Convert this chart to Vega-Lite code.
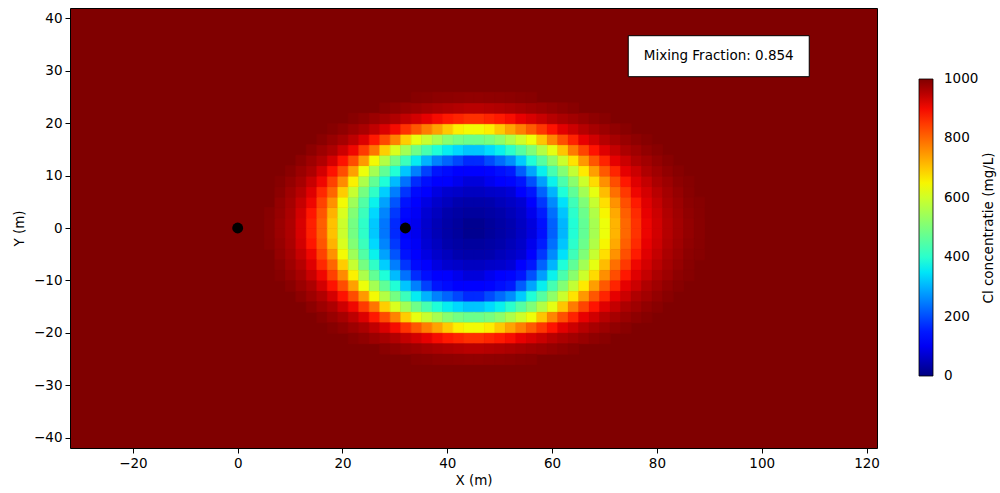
{
"$schema":"https://vega.github.io/schema/vega-lite/v6.json",
"width":807,"height":440,
"autosize":{"type":"none"},
"padding":{"left":70,"top":8,"right":123,"bottom":45},
"background":"white",
"config":{
"font":"DejaVu Sans",
"view":{"fill":"#800000","stroke":"#000000","strokeWidth":1},
"axis":{"labelFont":"DejaVu Sans","titleFont":"DejaVu Sans","labelFontSize":13.5,"titleFontSize":13.5,"labelColor":"#000","titleColor":"#000","titleFontWeight":"normal","tickColor":"#000","tickSize":5,"tickWidth":1,"domain":false,"grid":false,"labelPadding":3}
},
"datasets":{
"wells":[{"x":0,"y":0},{"x":32,"y":0}],
"note":[{"x":91.8,"y":32.8,"label":"Mixing Fraction: 0.854"}],
"field":[
{"x":5,"y":0,"c":992},{"x":7,"y":0,"c":977},{"x":9,"y":0,"c":960},{"x":11,"y":0,"c":924},{"x":13,"y":0,"c":877},{"x":15,"y":0,"c":810},{"x":17,"y":0,"c":706},{"x":19,"y":0,"c":596},{"x":21,"y":0,"c":491},{"x":23,"y":0,"c":405},{"x":25,"y":0,"c":321},{"x":27,"y":0,"c":241},{"x":29,"y":0,"c":165},{"x":31,"y":0,"c":125},{"x":33,"y":0,"c":95},{"x":35,"y":0,"c":67},{"x":37,"y":0,"c":48},{"x":39,"y":0,"c":34},{"x":41,"y":0,"c":25},{"x":43,"y":0,"c":14},{"x":45,"y":0,"c":14},{"x":47,"y":0,"c":23},{"x":49,"y":0,"c":32},{"x":51,"y":0,"c":42},{"x":53,"y":0,"c":58},{"x":55,"y":0,"c":81},{"x":57,"y":0,"c":140},{"x":59,"y":0,"c":219},{"x":61,"y":0,"c":304},{"x":63,"y":0,"c":390},{"x":65,"y":0,"c":468},{"x":67,"y":0,"c":551},{"x":69,"y":0,"c":637},{"x":71,"y":0,"c":719},{"x":73,"y":0,"c":800},{"x":75,"y":0,"c":857},{"x":77,"y":0,"c":906},{"x":79,"y":0,"c":930},{"x":81,"y":0,"c":954},{"x":83,"y":0,"c":970},{"x":85,"y":0,"c":983},{"x":87,"y":0,"c":992},
{"x":5,"y":-2,"c":992},{"x":7,"y":-2,"c":977},{"x":9,"y":-2,"c":960},{"x":11,"y":-2,"c":924},{"x":13,"y":-2,"c":877},{"x":15,"y":-2,"c":810},{"x":17,"y":-2,"c":706},{"x":19,"y":-2,"c":596},{"x":21,"y":-2,"c":491},{"x":23,"y":-2,"c":405},{"x":25,"y":-2,"c":321},{"x":27,"y":-2,"c":241},{"x":29,"y":-2,"c":165},{"x":31,"y":-2,"c":125},{"x":33,"y":-2,"c":95},{"x":35,"y":-2,"c":67},{"x":37,"y":-2,"c":48},{"x":39,"y":-2,"c":34},{"x":41,"y":-2,"c":25},{"x":43,"y":-2,"c":14},{"x":45,"y":-2,"c":14},{"x":47,"y":-2,"c":23},{"x":49,"y":-2,"c":32},{"x":51,"y":-2,"c":42},{"x":53,"y":-2,"c":58},{"x":55,"y":-2,"c":81},{"x":57,"y":-2,"c":140},{"x":59,"y":-2,"c":219},{"x":61,"y":-2,"c":304},{"x":63,"y":-2,"c":390},{"x":65,"y":-2,"c":468},{"x":67,"y":-2,"c":551},{"x":69,"y":-2,"c":637},{"x":71,"y":-2,"c":719},{"x":73,"y":-2,"c":800},{"x":75,"y":-2,"c":857},{"x":77,"y":-2,"c":906},{"x":79,"y":-2,"c":930},{"x":81,"y":-2,"c":954},{"x":83,"y":-2,"c":970},{"x":85,"y":-2,"c":983},{"x":87,"y":-2,"c":992},
{"x":5,"y":2,"c":993},{"x":7,"y":2,"c":980},{"x":9,"y":2,"c":963},{"x":11,"y":2,"c":929},{"x":13,"y":2,"c":887},{"x":15,"y":2,"c":820},{"x":17,"y":2,"c":722},{"x":19,"y":2,"c":613},{"x":21,"y":2,"c":508},{"x":23,"y":2,"c":421},{"x":25,"y":2,"c":337},{"x":27,"y":2,"c":256},{"x":29,"y":2,"c":180},{"x":31,"y":2,"c":132},{"x":33,"y":2,"c":102},{"x":35,"y":2,"c":72},{"x":37,"y":2,"c":55},{"x":39,"y":2,"c":38},{"x":41,"y":2,"c":31},{"x":43,"y":2,"c":26},{"x":45,"y":2,"c":26},{"x":47,"y":2,"c":31},{"x":49,"y":2,"c":37},{"x":51,"y":2,"c":49},{"x":53,"y":2,"c":63},{"x":55,"y":2,"c":94},{"x":57,"y":2,"c":152},{"x":59,"y":2,"c":234},{"x":61,"y":2,"c":318},{"x":63,"y":2,"c":402},{"x":65,"y":2,"c":480},{"x":67,"y":2,"c":564},{"x":69,"y":2,"c":650},{"x":71,"y":2,"c":731},{"x":73,"y":2,"c":809},{"x":75,"y":2,"c":866},{"x":77,"y":2,"c":910},{"x":79,"y":2,"c":934},{"x":81,"y":2,"c":958},{"x":83,"y":2,"c":972},{"x":85,"y":2,"c":985},{"x":87,"y":2,"c":993},
{"x":5,"y":-4,"c":993},{"x":7,"y":-4,"c":980},{"x":9,"y":-4,"c":963},{"x":11,"y":-4,"c":929},{"x":13,"y":-4,"c":887},{"x":15,"y":-4,"c":820},{"x":17,"y":-4,"c":722},{"x":19,"y":-4,"c":613},{"x":21,"y":-4,"c":508},{"x":23,"y":-4,"c":421},{"x":25,"y":-4,"c":337},{"x":27,"y":-4,"c":256},{"x":29,"y":-4,"c":180},{"x":31,"y":-4,"c":132},{"x":33,"y":-4,"c":102},{"x":35,"y":-4,"c":72},{"x":37,"y":-4,"c":55},{"x":39,"y":-4,"c":38},{"x":41,"y":-4,"c":31},{"x":43,"y":-4,"c":26},{"x":45,"y":-4,"c":26},{"x":47,"y":-4,"c":31},{"x":49,"y":-4,"c":37},{"x":51,"y":-4,"c":49},{"x":53,"y":-4,"c":63},{"x":55,"y":-4,"c":94},{"x":57,"y":-4,"c":152},{"x":59,"y":-4,"c":234},{"x":61,"y":-4,"c":318},{"x":63,"y":-4,"c":402},{"x":65,"y":-4,"c":480},{"x":67,"y":-4,"c":564},{"x":69,"y":-4,"c":650},{"x":71,"y":-4,"c":731},{"x":73,"y":-4,"c":809},{"x":75,"y":-4,"c":866},{"x":77,"y":-4,"c":910},{"x":79,"y":-4,"c":934},{"x":81,"y":-4,"c":958},{"x":83,"y":-4,"c":972},{"x":85,"y":-4,"c":985},{"x":87,"y":-4,"c":993},
{"x":7,"y":4,"c":983},{"x":9,"y":4,"c":967},{"x":11,"y":4,"c":939},{"x":13,"y":4,"c":904},{"x":15,"y":4,"c":840},{"x":17,"y":4,"c":756},{"x":19,"y":4,"c":645},{"x":21,"y":4,"c":541},{"x":23,"y":4,"c":448},{"x":25,"y":4,"c":362},{"x":27,"y":4,"c":284},{"x":29,"y":4,"c":207},{"x":31,"y":4,"c":143},{"x":33,"y":4,"c":114},{"x":35,"y":4,"c":86},{"x":37,"y":4,"c":66},{"x":39,"y":4,"c":54},{"x":41,"y":4,"c":41},{"x":43,"y":4,"c":36},{"x":45,"y":4,"c":36},{"x":47,"y":4,"c":39},{"x":49,"y":4,"c":50},{"x":51,"y":4,"c":60},{"x":53,"y":4,"c":72},{"x":55,"y":4,"c":119},{"x":57,"y":4,"c":179},{"x":59,"y":4,"c":260},{"x":61,"y":4,"c":345},{"x":63,"y":4,"c":425},{"x":65,"y":4,"c":504},{"x":67,"y":4,"c":590},{"x":69,"y":4,"c":674},{"x":71,"y":4,"c":755},{"x":73,"y":4,"c":826},{"x":75,"y":4,"c":883},{"x":77,"y":4,"c":917},{"x":79,"y":4,"c":941},{"x":81,"y":4,"c":963},{"x":83,"y":4,"c":976},{"x":85,"y":4,"c":989},{"x":87,"y":4,"c":994},
{"x":7,"y":-6,"c":983},{"x":9,"y":-6,"c":967},{"x":11,"y":-6,"c":939},{"x":13,"y":-6,"c":904},{"x":15,"y":-6,"c":840},{"x":17,"y":-6,"c":756},{"x":19,"y":-6,"c":645},{"x":21,"y":-6,"c":541},{"x":23,"y":-6,"c":448},{"x":25,"y":-6,"c":362},{"x":27,"y":-6,"c":284},{"x":29,"y":-6,"c":207},{"x":31,"y":-6,"c":143},{"x":33,"y":-6,"c":114},{"x":35,"y":-6,"c":86},{"x":37,"y":-6,"c":66},{"x":39,"y":-6,"c":54},{"x":41,"y":-6,"c":41},{"x":43,"y":-6,"c":36},{"x":45,"y":-6,"c":36},{"x":47,"y":-6,"c":39},{"x":49,"y":-6,"c":50},{"x":51,"y":-6,"c":60},{"x":53,"y":-6,"c":72},{"x":55,"y":-6,"c":119},{"x":57,"y":-6,"c":179},{"x":59,"y":-6,"c":260},{"x":61,"y":-6,"c":345},{"x":63,"y":-6,"c":425},{"x":65,"y":-6,"c":504},{"x":67,"y":-6,"c":590},{"x":69,"y":-6,"c":674},{"x":71,"y":-6,"c":755},{"x":73,"y":-6,"c":826},{"x":75,"y":-6,"c":883},{"x":77,"y":-6,"c":917},{"x":79,"y":-6,"c":941},{"x":81,"y":-6,"c":963},{"x":83,"y":-6,"c":976},{"x":85,"y":-6,"c":989},{"x":87,"y":-6,"c":994},
{"x":7,"y":6,"c":990},{"x":9,"y":6,"c":973},{"x":11,"y":6,"c":953},{"x":13,"y":6,"c":918},{"x":15,"y":6,"c":868},{"x":17,"y":6,"c":803},{"x":19,"y":6,"c":694},{"x":21,"y":6,"c":590},{"x":23,"y":6,"c":492},{"x":25,"y":6,"c":408},{"x":27,"y":6,"c":327},{"x":29,"y":6,"c":249},{"x":31,"y":6,"c":176},{"x":33,"y":6,"c":134},{"x":35,"y":6,"c":109},{"x":37,"y":6,"c":84},{"x":39,"y":6,"c":68},{"x":41,"y":6,"c":63},{"x":43,"y":6,"c":56},{"x":45,"y":6,"c":56},{"x":47,"y":6,"c":62},{"x":49,"y":6,"c":66},{"x":51,"y":6,"c":75},{"x":53,"y":6,"c":111},{"x":55,"y":6,"c":146},{"x":57,"y":6,"c":221},{"x":59,"y":6,"c":302},{"x":61,"y":6,"c":386},{"x":63,"y":6,"c":465},{"x":65,"y":6,"c":546},{"x":67,"y":6,"c":629},{"x":69,"y":6,"c":711},{"x":71,"y":6,"c":792},{"x":73,"y":6,"c":851},{"x":75,"y":6,"c":904},{"x":77,"y":6,"c":927},{"x":79,"y":6,"c":951},{"x":81,"y":6,"c":968},{"x":83,"y":6,"c":981},{"x":85,"y":6,"c":992},
{"x":7,"y":-8,"c":990},{"x":9,"y":-8,"c":973},{"x":11,"y":-8,"c":953},{"x":13,"y":-8,"c":918},{"x":15,"y":-8,"c":868},{"x":17,"y":-8,"c":803},{"x":19,"y":-8,"c":694},{"x":21,"y":-8,"c":590},{"x":23,"y":-8,"c":492},{"x":25,"y":-8,"c":408},{"x":27,"y":-8,"c":327},{"x":29,"y":-8,"c":249},{"x":31,"y":-8,"c":176},{"x":33,"y":-8,"c":134},{"x":35,"y":-8,"c":109},{"x":37,"y":-8,"c":84},{"x":39,"y":-8,"c":68},{"x":41,"y":-8,"c":63},{"x":43,"y":-8,"c":56},{"x":45,"y":-8,"c":56},{"x":47,"y":-8,"c":62},{"x":49,"y":-8,"c":66},{"x":51,"y":-8,"c":75},{"x":53,"y":-8,"c":111},{"x":55,"y":-8,"c":146},{"x":57,"y":-8,"c":221},{"x":59,"y":-8,"c":302},{"x":61,"y":-8,"c":386},{"x":63,"y":-8,"c":465},{"x":65,"y":-8,"c":546},{"x":67,"y":-8,"c":629},{"x":69,"y":-8,"c":711},{"x":71,"y":-8,"c":792},{"x":73,"y":-8,"c":851},{"x":75,"y":-8,"c":904},{"x":77,"y":-8,"c":927},{"x":79,"y":-8,"c":951},{"x":81,"y":-8,"c":968},{"x":83,"y":-8,"c":981},{"x":85,"y":-8,"c":992},
{"x":7,"y":8,"c":994},{"x":9,"y":8,"c":982},{"x":11,"y":8,"c":966},{"x":13,"y":8,"c":938},{"x":15,"y":8,"c":903},{"x":17,"y":8,"c":842},{"x":19,"y":8,"c":763},{"x":21,"y":8,"c":655},{"x":23,"y":8,"c":558},{"x":25,"y":8,"c":468},{"x":27,"y":8,"c":386},{"x":29,"y":8,"c":309},{"x":31,"y":8,"c":236},{"x":33,"y":8,"c":167},{"x":35,"y":8,"c":139},{"x":37,"y":8,"c":124},{"x":39,"y":8,"c":109},{"x":41,"y":8,"c":94},{"x":43,"y":8,"c":79},{"x":45,"y":8,"c":79},{"x":47,"y":8,"c":96},{"x":49,"y":8,"c":112},{"x":51,"y":8,"c":129},{"x":53,"y":8,"c":145},{"x":55,"y":8,"c":203},{"x":57,"y":8,"c":280},{"x":59,"y":8,"c":362},{"x":61,"y":8,"c":439},{"x":63,"y":8,"c":516},{"x":65,"y":8,"c":597},{"x":67,"y":8,"c":678},{"x":69,"y":8,"c":759},{"x":71,"y":8,"c":829},{"x":73,"y":8,"c":886},{"x":75,"y":8,"c":918},{"x":77,"y":8,"c":941},{"x":79,"y":8,"c":963},{"x":81,"y":8,"c":975},{"x":83,"y":8,"c":988},{"x":85,"y":8,"c":994},
{"x":7,"y":-10,"c":994},{"x":9,"y":-10,"c":982},{"x":11,"y":-10,"c":966},{"x":13,"y":-10,"c":938},{"x":15,"y":-10,"c":903},{"x":17,"y":-10,"c":842},{"x":19,"y":-10,"c":763},{"x":21,"y":-10,"c":655},{"x":23,"y":-10,"c":558},{"x":25,"y":-10,"c":468},{"x":27,"y":-10,"c":386},{"x":29,"y":-10,"c":309},{"x":31,"y":-10,"c":236},{"x":33,"y":-10,"c":167},{"x":35,"y":-10,"c":139},{"x":37,"y":-10,"c":124},{"x":39,"y":-10,"c":109},{"x":41,"y":-10,"c":94},{"x":43,"y":-10,"c":79},{"x":45,"y":-10,"c":79},{"x":47,"y":-10,"c":96},{"x":49,"y":-10,"c":112},{"x":51,"y":-10,"c":129},{"x":53,"y":-10,"c":145},{"x":55,"y":-10,"c":203},{"x":57,"y":-10,"c":280},{"x":59,"y":-10,"c":362},{"x":61,"y":-10,"c":439},{"x":63,"y":-10,"c":516},{"x":65,"y":-10,"c":597},{"x":67,"y":-10,"c":678},{"x":69,"y":-10,"c":759},{"x":71,"y":-10,"c":829},{"x":73,"y":-10,"c":886},{"x":75,"y":-10,"c":918},{"x":77,"y":-10,"c":941},{"x":79,"y":-10,"c":963},{"x":81,"y":-10,"c":975},{"x":83,"y":-10,"c":988},{"x":85,"y":-10,"c":994},
{"x":9,"y":10,"c":991},{"x":11,"y":10,"c":977},{"x":13,"y":10,"c":961},{"x":15,"y":10,"c":928},{"x":17,"y":10,"c":891},{"x":19,"y":10,"c":828},{"x":21,"y":10,"c":741},{"x":23,"y":10,"c":637},{"x":25,"y":10,"c":549},{"x":27,"y":10,"c":466},{"x":29,"y":10,"c":389},{"x":31,"y":10,"c":318},{"x":33,"y":10,"c":251},{"x":35,"y":10,"c":188},{"x":37,"y":10,"c":145},{"x":39,"y":10,"c":135},{"x":41,"y":10,"c":125},{"x":43,"y":10,"c":115},{"x":45,"y":10,"c":116},{"x":47,"y":10,"c":128},{"x":49,"y":10,"c":139},{"x":51,"y":10,"c":150},{"x":53,"y":10,"c":215},{"x":55,"y":10,"c":286},{"x":57,"y":10,"c":359},{"x":59,"y":10,"c":433},{"x":61,"y":10,"c":508},{"x":63,"y":10,"c":585},{"x":65,"y":10,"c":662},{"x":67,"y":10,"c":743},{"x":69,"y":10,"c":817},{"x":71,"y":10,"c":872},{"x":73,"y":10,"c":912},{"x":75,"y":10,"c":935},{"x":77,"y":10,"c":959},{"x":79,"y":10,"c":972},{"x":81,"y":10,"c":984},{"x":83,"y":10,"c":993},
{"x":9,"y":-12,"c":991},{"x":11,"y":-12,"c":977},{"x":13,"y":-12,"c":961},{"x":15,"y":-12,"c":928},{"x":17,"y":-12,"c":891},{"x":19,"y":-12,"c":828},{"x":21,"y":-12,"c":741},{"x":23,"y":-12,"c":637},{"x":25,"y":-12,"c":549},{"x":27,"y":-12,"c":466},{"x":29,"y":-12,"c":389},{"x":31,"y":-12,"c":318},{"x":33,"y":-12,"c":251},{"x":35,"y":-12,"c":188},{"x":37,"y":-12,"c":145},{"x":39,"y":-12,"c":135},{"x":41,"y":-12,"c":125},{"x":43,"y":-12,"c":115},{"x":45,"y":-12,"c":116},{"x":47,"y":-12,"c":128},{"x":49,"y":-12,"c":139},{"x":51,"y":-12,"c":150},{"x":53,"y":-12,"c":215},{"x":55,"y":-12,"c":286},{"x":57,"y":-12,"c":359},{"x":59,"y":-12,"c":433},{"x":61,"y":-12,"c":508},{"x":63,"y":-12,"c":585},{"x":65,"y":-12,"c":662},{"x":67,"y":-12,"c":743},{"x":69,"y":-12,"c":817},{"x":71,"y":-12,"c":872},{"x":73,"y":-12,"c":912},{"x":75,"y":-12,"c":935},{"x":77,"y":-12,"c":959},{"x":79,"y":-12,"c":972},{"x":81,"y":-12,"c":984},{"x":83,"y":-12,"c":993},
{"x":11,"y":12,"c":989},{"x":13,"y":12,"c":974},{"x":15,"y":12,"c":958},{"x":17,"y":12,"c":927},{"x":19,"y":12,"c":891},{"x":21,"y":12,"c":830},{"x":23,"y":12,"c":748},{"x":25,"y":12,"c":646},{"x":27,"y":12,"c":567},{"x":29,"y":12,"c":490},{"x":31,"y":12,"c":421},{"x":33,"y":12,"c":356},{"x":35,"y":12,"c":301},{"x":37,"y":12,"c":253},{"x":39,"y":12,"c":223},{"x":41,"y":12,"c":194},{"x":43,"y":12,"c":165},{"x":45,"y":12,"c":166},{"x":47,"y":12,"c":198},{"x":49,"y":12,"c":230},{"x":51,"y":12,"c":263},{"x":53,"y":12,"c":324},{"x":55,"y":12,"c":387},{"x":57,"y":12,"c":453},{"x":59,"y":12,"c":522},{"x":61,"y":12,"c":595},{"x":63,"y":12,"c":670},{"x":65,"y":12,"c":749},{"x":67,"y":12,"c":819},{"x":69,"y":12,"c":873},{"x":71,"y":12,"c":912},{"x":73,"y":12,"c":935},{"x":75,"y":12,"c":959},{"x":77,"y":12,"c":971},{"x":79,"y":12,"c":983},{"x":81,"y":12,"c":992},
{"x":11,"y":-14,"c":989},{"x":13,"y":-14,"c":974},{"x":15,"y":-14,"c":958},{"x":17,"y":-14,"c":927},{"x":19,"y":-14,"c":891},{"x":21,"y":-14,"c":830},{"x":23,"y":-14,"c":748},{"x":25,"y":-14,"c":646},{"x":27,"y":-14,"c":567},{"x":29,"y":-14,"c":490},{"x":31,"y":-14,"c":421},{"x":33,"y":-14,"c":356},{"x":35,"y":-14,"c":301},{"x":37,"y":-14,"c":253},{"x":39,"y":-14,"c":223},{"x":41,"y":-14,"c":194},{"x":43,"y":-14,"c":165},{"x":45,"y":-14,"c":166},{"x":47,"y":-14,"c":198},{"x":49,"y":-14,"c":230},{"x":51,"y":-14,"c":263},{"x":53,"y":-14,"c":324},{"x":55,"y":-14,"c":387},{"x":57,"y":-14,"c":453},{"x":59,"y":-14,"c":522},{"x":61,"y":-14,"c":595},{"x":63,"y":-14,"c":670},{"x":65,"y":-14,"c":749},{"x":67,"y":-14,"c":819},{"x":69,"y":-14,"c":873},{"x":71,"y":-14,"c":912},{"x":73,"y":-14,"c":935},{"x":75,"y":-14,"c":959},{"x":77,"y":-14,"c":971},{"x":79,"y":-14,"c":983},{"x":81,"y":-14,"c":992},
{"x":13,"y":14,"c":989},{"x":15,"y":14,"c":975},{"x":17,"y":14,"c":961},{"x":19,"y":14,"c":933},{"x":21,"y":14,"c":903},{"x":23,"y":14,"c":849},{"x":25,"y":14,"c":786},{"x":27,"y":14,"c":692},{"x":29,"y":14,"c":613},{"x":31,"y":14,"c":547},{"x":33,"y":14,"c":485},{"x":35,"y":14,"c":436},{"x":37,"y":14,"c":387},{"x":39,"y":14,"c":357},{"x":41,"y":14,"c":337},{"x":43,"y":14,"c":317},{"x":45,"y":14,"c":318},{"x":47,"y":14,"c":340},{"x":49,"y":14,"c":361},{"x":51,"y":14,"c":401},{"x":53,"y":14,"c":452},{"x":55,"y":14,"c":503},{"x":57,"y":14,"c":566},{"x":59,"y":14,"c":628},{"x":61,"y":14,"c":701},{"x":63,"y":14,"c":780},{"x":65,"y":14,"c":838},{"x":67,"y":14,"c":890},{"x":69,"y":14,"c":918},{"x":71,"y":14,"c":941},{"x":73,"y":14,"c":962},{"x":75,"y":14,"c":973},{"x":77,"y":14,"c":984},{"x":79,"y":14,"c":992},
{"x":13,"y":-16,"c":989},{"x":15,"y":-16,"c":975},{"x":17,"y":-16,"c":961},{"x":19,"y":-16,"c":933},{"x":21,"y":-16,"c":903},{"x":23,"y":-16,"c":849},{"x":25,"y":-16,"c":786},{"x":27,"y":-16,"c":692},{"x":29,"y":-16,"c":613},{"x":31,"y":-16,"c":547},{"x":33,"y":-16,"c":485},{"x":35,"y":-16,"c":436},{"x":37,"y":-16,"c":387},{"x":39,"y":-16,"c":357},{"x":41,"y":-16,"c":337},{"x":43,"y":-16,"c":317},{"x":45,"y":-16,"c":318},{"x":47,"y":-16,"c":340},{"x":49,"y":-16,"c":361},{"x":51,"y":-16,"c":401},{"x":53,"y":-16,"c":452},{"x":55,"y":-16,"c":503},{"x":57,"y":-16,"c":566},{"x":59,"y":-16,"c":628},{"x":61,"y":-16,"c":701},{"x":63,"y":-16,"c":780},{"x":65,"y":-16,"c":838},{"x":67,"y":-16,"c":890},{"x":69,"y":-16,"c":918},{"x":71,"y":-16,"c":941},{"x":73,"y":-16,"c":962},{"x":75,"y":-16,"c":973},{"x":77,"y":-16,"c":984},{"x":79,"y":-16,"c":992},
{"x":15,"y":16,"c":991},{"x":17,"y":16,"c":979},{"x":19,"y":16,"c":967},{"x":21,"y":16,"c":947},{"x":23,"y":16,"c":920},{"x":25,"y":16,"c":885},{"x":27,"y":16,"c":833},{"x":29,"y":16,"c":772},{"x":31,"y":16,"c":693},{"x":33,"y":16,"c":632},{"x":35,"y":16,"c":593},{"x":37,"y":16,"c":553},{"x":39,"y":16,"c":514},{"x":41,"y":16,"c":492},{"x":43,"y":16,"c":480},{"x":45,"y":16,"c":481},{"x":47,"y":16,"c":494},{"x":49,"y":16,"c":520},{"x":51,"y":16,"c":560},{"x":53,"y":16,"c":600},{"x":55,"y":16,"c":640},{"x":57,"y":16,"c":701},{"x":59,"y":16,"c":769},{"x":61,"y":16,"c":826},{"x":63,"y":16,"c":874},{"x":65,"y":16,"c":910},{"x":67,"y":16,"c":931},{"x":69,"y":16,"c":953},{"x":71,"y":16,"c":967},{"x":73,"y":16,"c":978},{"x":75,"y":16,"c":988},{"x":77,"y":16,"c":994},
{"x":15,"y":-18,"c":991},{"x":17,"y":-18,"c":979},{"x":19,"y":-18,"c":967},{"x":21,"y":-18,"c":947},{"x":23,"y":-18,"c":920},{"x":25,"y":-18,"c":885},{"x":27,"y":-18,"c":833},{"x":29,"y":-18,"c":772},{"x":31,"y":-18,"c":693},{"x":33,"y":-18,"c":632},{"x":35,"y":-18,"c":593},{"x":37,"y":-18,"c":553},{"x":39,"y":-18,"c":514},{"x":41,"y":-18,"c":492},{"x":43,"y":-18,"c":480},{"x":45,"y":-18,"c":481},{"x":47,"y":-18,"c":494},{"x":49,"y":-18,"c":520},{"x":51,"y":-18,"c":560},{"x":53,"y":-18,"c":600},{"x":55,"y":-18,"c":640},{"x":57,"y":-18,"c":701},{"x":59,"y":-18,"c":769},{"x":61,"y":-18,"c":826},{"x":63,"y":-18,"c":874},{"x":65,"y":-18,"c":910},{"x":67,"y":-18,"c":931},{"x":69,"y":-18,"c":953},{"x":71,"y":-18,"c":967},{"x":73,"y":-18,"c":978},{"x":75,"y":-18,"c":988},{"x":77,"y":-18,"c":994},
{"x":17,"y":18,"c":994},{"x":19,"y":18,"c":986},{"x":21,"y":18,"c":975},{"x":23,"y":18,"c":964},{"x":25,"y":18,"c":945},{"x":27,"y":18,"c":922},{"x":29,"y":18,"c":898},{"x":31,"y":18,"c":858},{"x":33,"y":18,"c":818},{"x":35,"y":18,"c":778},{"x":37,"y":18,"c":738},{"x":39,"y":18,"c":697},{"x":41,"y":18,"c":657},{"x":43,"y":18,"c":645},{"x":45,"y":18,"c":645},{"x":47,"y":18,"c":658},{"x":49,"y":18,"c":697},{"x":51,"y":18,"c":737},{"x":53,"y":18,"c":776},{"x":55,"y":18,"c":815},{"x":57,"y":18,"c":853},{"x":59,"y":18,"c":891},{"x":61,"y":18,"c":915},{"x":63,"y":18,"c":934},{"x":65,"y":18,"c":953},{"x":67,"y":18,"c":966},{"x":69,"y":18,"c":976},{"x":71,"y":18,"c":985},{"x":73,"y":18,"c":992},
{"x":17,"y":-20,"c":994},{"x":19,"y":-20,"c":986},{"x":21,"y":-20,"c":975},{"x":23,"y":-20,"c":964},{"x":25,"y":-20,"c":945},{"x":27,"y":-20,"c":922},{"x":29,"y":-20,"c":898},{"x":31,"y":-20,"c":858},{"x":33,"y":-20,"c":818},{"x":35,"y":-20,"c":778},{"x":37,"y":-20,"c":738},{"x":39,"y":-20,"c":697},{"x":41,"y":-20,"c":657},{"x":43,"y":-20,"c":645},{"x":45,"y":-20,"c":645},{"x":47,"y":-20,"c":658},{"x":49,"y":-20,"c":697},{"x":51,"y":-20,"c":737},{"x":53,"y":-20,"c":776},{"x":55,"y":-20,"c":815},{"x":57,"y":-20,"c":853},{"x":59,"y":-20,"c":891},{"x":61,"y":-20,"c":915},{"x":63,"y":-20,"c":934},{"x":65,"y":-20,"c":953},{"x":67,"y":-20,"c":966},{"x":69,"y":-20,"c":976},{"x":71,"y":-20,"c":985},{"x":73,"y":-20,"c":992},
{"x":21,"y":20,"c":993},{"x":23,"y":20,"c":986},{"x":25,"y":20,"c":977},{"x":27,"y":20,"c":968},{"x":29,"y":20,"c":958},{"x":31,"y":20,"c":943},{"x":33,"y":20,"c":928},{"x":35,"y":20,"c":912},{"x":37,"y":20,"c":898},{"x":39,"y":20,"c":885},{"x":41,"y":20,"c":873},{"x":43,"y":20,"c":860},{"x":45,"y":20,"c":860},{"x":47,"y":20,"c":872},{"x":49,"y":20,"c":884},{"x":51,"y":20,"c":896},{"x":53,"y":20,"c":910},{"x":55,"y":20,"c":924},{"x":57,"y":20,"c":938},{"x":59,"y":20,"c":952},{"x":61,"y":20,"c":963},{"x":63,"y":20,"c":971},{"x":65,"y":20,"c":979},{"x":67,"y":20,"c":987},{"x":69,"y":20,"c":992},
{"x":21,"y":-22,"c":993},{"x":23,"y":-22,"c":986},{"x":25,"y":-22,"c":977},{"x":27,"y":-22,"c":968},{"x":29,"y":-22,"c":958},{"x":31,"y":-22,"c":943},{"x":33,"y":-22,"c":928},{"x":35,"y":-22,"c":912},{"x":37,"y":-22,"c":898},{"x":39,"y":-22,"c":885},{"x":41,"y":-22,"c":873},{"x":43,"y":-22,"c":860},{"x":45,"y":-22,"c":860},{"x":47,"y":-22,"c":872},{"x":49,"y":-22,"c":884},{"x":51,"y":-22,"c":896},{"x":53,"y":-22,"c":910},{"x":55,"y":-22,"c":924},{"x":57,"y":-22,"c":938},{"x":59,"y":-22,"c":952},{"x":61,"y":-22,"c":963},{"x":63,"y":-22,"c":971},{"x":65,"y":-22,"c":979},{"x":67,"y":-22,"c":987},{"x":69,"y":-22,"c":992},
{"x":27,"y":22,"c":991},{"x":29,"y":22,"c":986},{"x":31,"y":22,"c":980},{"x":33,"y":22,"c":975},{"x":35,"y":22,"c":969},{"x":37,"y":22,"c":964},{"x":39,"y":22,"c":959},{"x":41,"y":22,"c":955},{"x":43,"y":22,"c":951},{"x":45,"y":22,"c":951},{"x":47,"y":22,"c":954},{"x":49,"y":22,"c":958},{"x":51,"y":22,"c":962},{"x":53,"y":22,"c":967},{"x":55,"y":22,"c":972},{"x":57,"y":22,"c":977},{"x":59,"y":22,"c":982},{"x":61,"y":22,"c":987},{"x":63,"y":22,"c":992},
{"x":27,"y":-24,"c":991},{"x":29,"y":-24,"c":986},{"x":31,"y":-24,"c":980},{"x":33,"y":-24,"c":975},{"x":35,"y":-24,"c":969},{"x":37,"y":-24,"c":964},{"x":39,"y":-24,"c":959},{"x":41,"y":-24,"c":955},{"x":43,"y":-24,"c":951},{"x":45,"y":-24,"c":951},{"x":47,"y":-24,"c":954},{"x":49,"y":-24,"c":958},{"x":51,"y":-24,"c":962},{"x":53,"y":-24,"c":967},{"x":55,"y":-24,"c":972},{"x":57,"y":-24,"c":977},{"x":59,"y":-24,"c":982},{"x":61,"y":-24,"c":987},{"x":63,"y":-24,"c":992},
{"x":33,"y":24,"c":994},{"x":35,"y":24,"c":992},{"x":37,"y":24,"c":989},{"x":39,"y":24,"c":988},{"x":41,"y":24,"c":986},{"x":43,"y":24,"c":984},{"x":45,"y":24,"c":984},{"x":47,"y":24,"c":986},{"x":49,"y":24,"c":987},{"x":51,"y":24,"c":989},{"x":53,"y":24,"c":991},{"x":55,"y":24,"c":993},
{"x":33,"y":-26,"c":994},{"x":35,"y":-26,"c":992},{"x":37,"y":-26,"c":989},{"x":39,"y":-26,"c":988},{"x":41,"y":-26,"c":986},{"x":43,"y":-26,"c":984},{"x":45,"y":-26,"c":984},{"x":47,"y":-26,"c":986},{"x":49,"y":-26,"c":987},{"x":51,"y":-26,"c":989},{"x":53,"y":-26,"c":991},{"x":55,"y":-26,"c":993}
]
},
"layer":[
{"data":{"name":"field"},
"mark":{"type":"rect","strokeWidth":0.6,"stroke":{"expr":"scale('color', datum.c)"}},
"encoding":{
"x":{"field":"x","type":"quantitative","bin":{"binned":true,"step":2},"scale":{"domain":[-32,122],"nice":false,"zero":false},"axis":{"title":"X (m)","values":[-20,0,20,40,60,80,100,120],"titlePadding":4}},
"y":{"field":"y","type":"quantitative","bin":{"binned":true,"step":2},"scale":{"domain":[-42,42],"nice":false,"zero":false},"axis":{"title":"Y (m)","values":[-40,-30,-20,-10,0,10,20,30,40],"titlePadding":7}},
"color":{"field":"c","type":"quantitative",
"scale":{"type":"linear","domain":[0,110,125,340,350,375,640,650,660,890,910,1000],"range":["#000080","#0000ff","#0000ff","#00dbff","#00e6f7","#15ffe2","#efff08","#f7f600","#ffec00","#ff1300","#e80000","#800000"],"interpolate":"rgb","nice":false,"zero":false},
"legend":{"type":"gradient","title":"Cl concentratie (mg/L)","orient":"none","legendX":849,"legendY":71,"direction":"vertical","gradientLength":297,"gradientThickness":14,"gradientStrokeColor":"#000","gradientStrokeWidth":0.8,"values":[0,200,400,600,800,1000],"format":"d","labelFont":"DejaVu Sans","labelFontSize":13.5,"labelColor":"#000","labelOffset":11,"labelOverlap":false,"titleOrient":"right","titleFont":"DejaVu Sans","titleFontSize":13.5,"titleFontWeight":"normal","titleColor":"#000","titlePadding":4,"titleLimit":400,"titleBaseline":"top","encoding":{"title":{"angle":{"value":-90}},"labels":{"baseline":{"value":"middle"}}}}}
}},
{"data":{"name":"wells"},
"mark":{"type":"circle","size":120,"color":"#000000","opacity":1},
"encoding":{
"x":{"field":"x","type":"quantitative","scale":{"domain":[-32,122],"nice":false,"zero":false},"axis":{"title":"X (m)","values":[-20,0,20,40,60,80,100,120],"titlePadding":4}},
"y":{"field":"y","type":"quantitative","scale":{"domain":[-42,42],"nice":false,"zero":false},"axis":{"title":"Y (m)","values":[-40,-30,-20,-10,0,10,20,30,40],"titlePadding":7}}
}},
{"data":{"name":"note"},
"mark":{"type":"point","shape":"M-1,-0.2265L1,-0.2265L1,0.2265L-1,0.2265Z","size":32761,"filled":true,"fill":"#ffffff","stroke":"#000000","strokeWidth":1,"opacity":1},
"encoding":{
"x":{"field":"x","type":"quantitative","scale":{"domain":[-32,122],"nice":false,"zero":false},"axis":{"title":"X (m)","values":[-20,0,20,40,60,80,100,120],"titlePadding":4}},
"y":{"field":"y","type":"quantitative","scale":{"domain":[-42,42],"nice":false,"zero":false},"axis":{"title":"Y (m)","values":[-40,-30,-20,-10,0,10,20,30,40],"titlePadding":7}}
}},
{"data":{"name":"note"},
"mark":{"type":"text","font":"DejaVu Sans","fontSize":13.5,"color":"#000000","align":"center","baseline":"middle"},
"encoding":{
"x":{"field":"x","type":"quantitative","scale":{"domain":[-32,122],"nice":false,"zero":false},"axis":{"title":"X (m)","values":[-20,0,20,40,60,80,100,120],"titlePadding":4}},
"y":{"field":"y","type":"quantitative","scale":{"domain":[-42,42],"nice":false,"zero":false},"axis":{"title":"Y (m)","values":[-40,-30,-20,-10,0,10,20,30,40],"titlePadding":7}},
"text":{"field":"label"}
}}
]
}
